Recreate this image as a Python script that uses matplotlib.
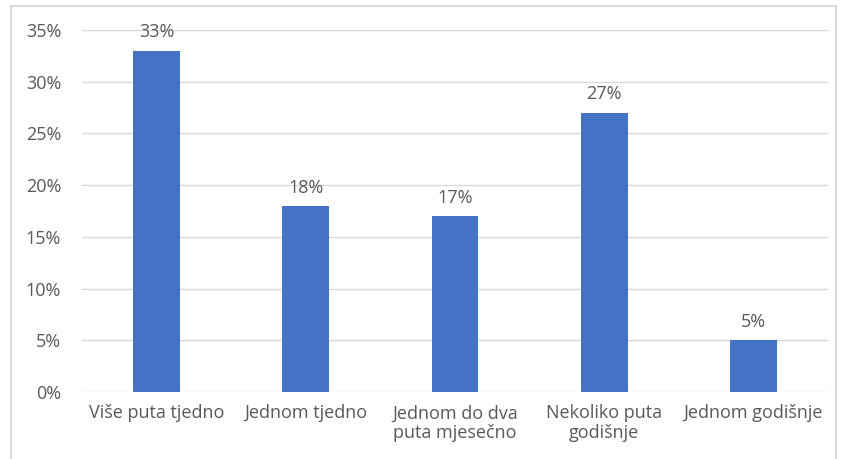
import matplotlib
matplotlib.use("Agg")
import matplotlib.pyplot as plt
from matplotlib.patches import Rectangle

# categories and values (percent)
categories = ["Više puta tjedno", "Jednom tjedno", "Jednom do dva\nputa mjesečno",
              "Nekoliko puta\ngodišnje", "Jednom godišnje"]
values = [33, 18, 17, 27, 5]
yticks = [0, 5, 10, 15, 20, 25, 30, 35]

plt.rcParams['font.family'] = ['Open Sans', 'DejaVu Sans']
txt = '#595959'
fs = 13

fig = plt.figure(figsize=(8.42, 4.59), dpi=100)
ax = fig.add_axes([82 / 842, 1 - 392 / 459, 746 / 842, 362 / 459])

# outer chart border
fig.patches.append(Rectangle((11 / 842, -0.01), 825 / 842, 1 - 6 / 459 + 0.01,
                             transform=fig.transFigure, fill=False,
                             edgecolor='#D9D9D9', linewidth=1.5))

x = range(len(categories))
bars = ax.bar(x, values, width=0.315, color='#4472C4', zorder=3)
for b, v in zip(bars, values):
    ax.text(b.get_x() + b.get_width() / 2, v + 0.9, f"{v}%", ha='center', va='bottom',
            fontsize=fs, color=txt)

ax.set_xlim(-0.5, len(categories) - 0.5)
ax.set_ylim(0, 35)
ax.set_yticks(yticks)
ax.set_yticklabels([f"{t}%" for t in yticks], fontsize=fs, color=txt)
ax.set_xticks(list(x))
ax.set_xticklabels(categories, fontsize=fs, color=txt, linespacing=1.1)
ax.tick_params(axis='both', length=0)
ax.tick_params(axis='y', pad=15)
ax.tick_params(axis='x', pad=9)
ax.grid(axis='y', color='#D9D9D9', linewidth=1, zorder=0)
for s in ax.spines.values():
    s.set_visible(False)

fig.savefig("out.png", dpi=100)
